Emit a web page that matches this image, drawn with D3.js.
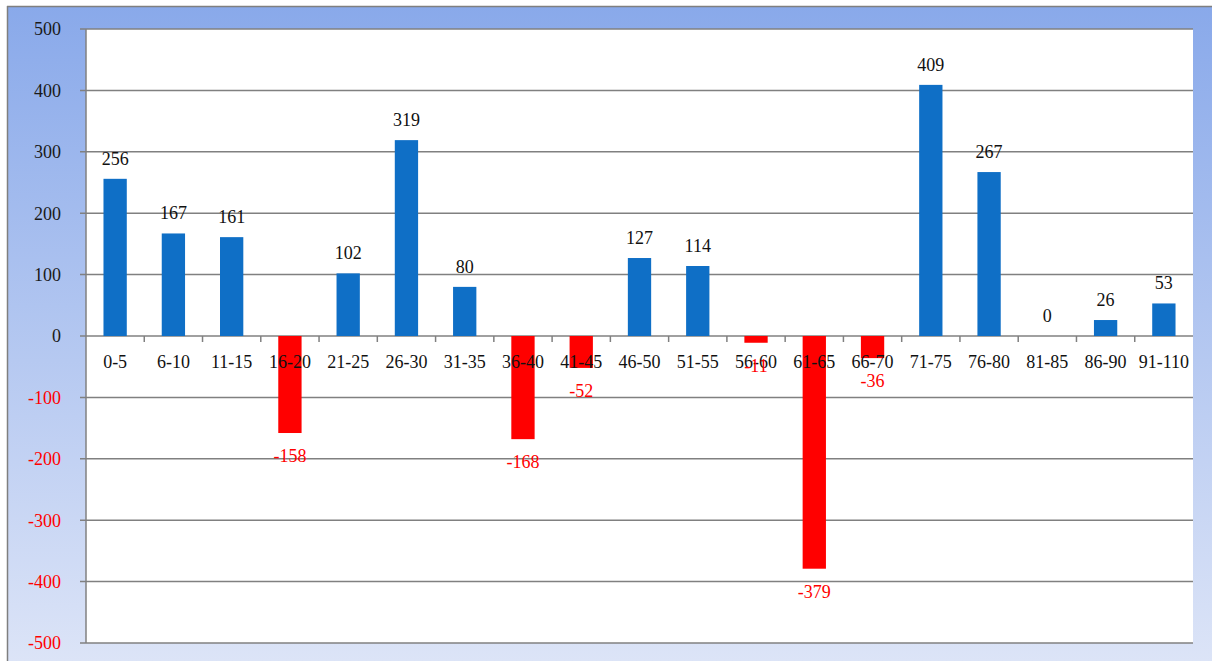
<!DOCTYPE html>
<html><head><meta charset="utf-8">
<script src="https://cdnjs.cloudflare.com/ajax/libs/d3/7.8.5/d3.min.js"></script>
<style>html,body{margin:0;padding:0;background:#fff;}svg{display:block;}</style>
</head><body>
<svg id="c" width="1212" height="661"></svg>
<script>
const categories = ["0-5","6-10","11-15","16-20","21-25","26-30","31-35","36-40","41-45","46-50","51-55","56-60","61-65","66-70","71-75","76-80","81-85","86-90","91-110"];
const values = [256,167,161,-158,102,319,80,-168,-52,127,114,-11,-379,-36,409,267,0,26,53];
const yTicks = [-500,-400,-300,-200,-100,0,100,200,300,400,500];

const svg = d3.select("#c");
const W = 1212, H = 661;
const defs = svg.append("defs");
const g = defs.append("linearGradient").attr("id","bg").attr("x1",0).attr("y1",0).attr("x2",0).attr("y2",1);
g.append("stop").attr("offset","0%").attr("stop-color","#89a9ea");
g.append("stop").attr("offset","100%").attr("stop-color","#dce4f7");
svg.append("rect").attr("x",7).attr("y",6).attr("width",W-7).attr("height",H-6).attr("fill","url(#bg)");
svg.append("line").attr("x1",7).attr("x2",W).attr("y1",6.5).attr("y2",6.5).attr("stroke","#7f7f7f").attr("stroke-width",1.5);
svg.append("line").attr("x1",7.5).attr("x2",7.5).attr("y1",6).attr("y2",H).attr("stroke","#7f7f7f").attr("stroke-width",1.5);

const L = 86, R = 1193, T = 29, B = 643;
svg.append("rect").attr("x",L).attr("y",T).attr("width",R-L).attr("height",B-T).attr("fill","#fff");

const x = d3.scaleBand().domain(categories).range([L,R]).paddingInner(0.6).paddingOuter(0.3);
const y = d3.scaleLinear().domain([-500,500]).range([B,T]);
const font = "'Liberation Serif', 'DejaVu Serif', serif";

// gridlines
svg.append("g").selectAll("line").data(yTicks).join("line")
  .attr("x1",L-6).attr("x2",R).attr("y1",d=>y(d)).attr("y2",d=>y(d))
  .attr("stroke","#808080").attr("stroke-width",1.5);
svg.append("line").attr("x1",L).attr("x2",L).attr("y1",T).attr("y2",B).attr("stroke","#808080").attr("stroke-width",1.5);

// y labels
svg.append("g").selectAll("text").data(yTicks).join("text")
  .attr("x",61).attr("y",d=>y(d)).attr("dy","0.35em").attr("text-anchor","end")
  .attr("font-family",font).attr("font-size",18)
  .attr("fill",d=>d<0?"#ff0000":"#1a1a1a").text(d=>d);

// bars
svg.append("g").selectAll("rect").data(values).join("rect")
  .attr("x",(d,i)=>x(categories[i])).attr("width",x.bandwidth())
  .attr("y",d=>y(Math.max(0,d))).attr("height",d=>Math.abs(y(d)-y(0)))
  .attr("fill",d=>d<0?"#ff0000":"#0f6fc6");

// category ticks
const step = (R-L)/categories.length;
svg.append("g").selectAll("line").data(d3.range(1,categories.length)).join("line")
  .attr("x1",i=>L+i*step).attr("x2",i=>L+i*step).attr("y1",y(0)).attr("y2",y(0)+6)
  .attr("stroke","#808080").attr("stroke-width",1.5);

// x labels
svg.append("g").selectAll("text").data(categories).join("text")
  .attr("x",d=>x(d)+x.bandwidth()/2).attr("y",y(0)+32).attr("text-anchor","middle")
  .attr("font-family",font).attr("font-size",18).attr("fill","#111").text(d=>d);

// data labels
svg.append("g").selectAll("text").data(values).join("text")
  .attr("x",(d,i)=>x(categories[i])+x.bandwidth()/2)
  .attr("y",d=>d<0?y(d)+29:y(d)-14)
  .attr("text-anchor","middle").attr("font-family",font).attr("font-size",18)
  .attr("fill",d=>d<0?"#ff0000":"#111").text(d=>d);
</script>
</body></html>
